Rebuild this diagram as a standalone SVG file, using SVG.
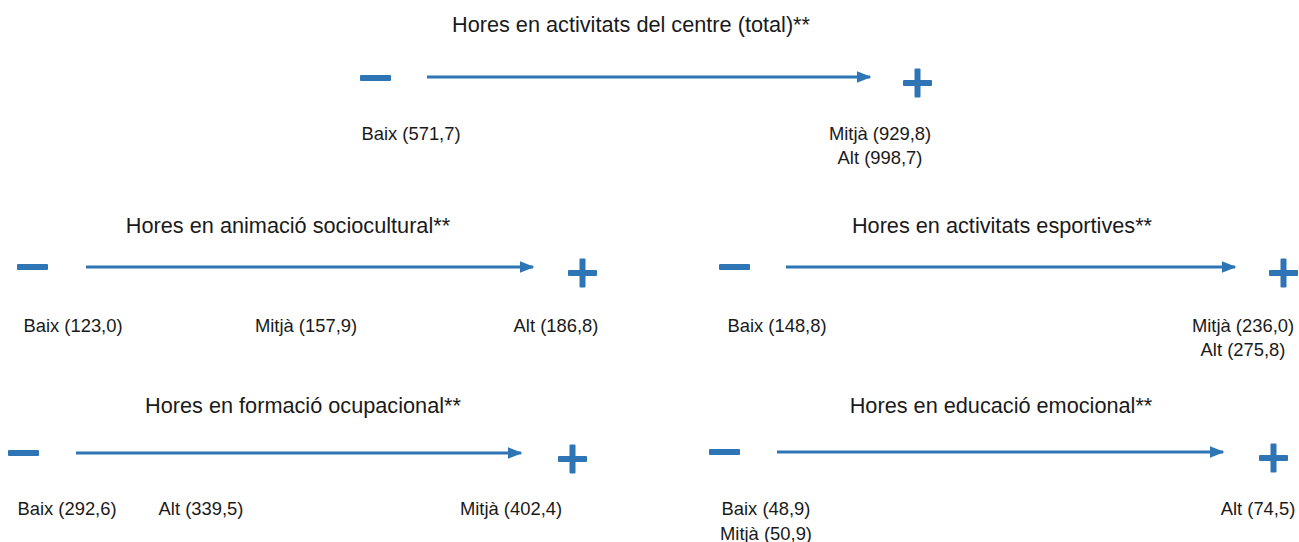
<svg xmlns="http://www.w3.org/2000/svg" width="1299" height="542" viewBox="0 0 1299 542">
<style>
.t{font-family:"Liberation Sans",Arial,sans-serif;font-size:21.7px;fill:#1a1a1a;text-anchor:middle}
.l{font-family:"Liberation Sans",Arial,sans-serif;font-size:18.4px;fill:#1a1a1a;text-anchor:middle}
.ar{stroke:#2E75B6;stroke-width:3;fill:none;marker-end:url(#ah)}
.s{fill:#2E75B6}
</style>
<defs>
<marker id="ah" markerWidth="5" markerHeight="4" refX="4.5" refY="2" orient="auto" markerUnits="strokeWidth">
<path d="M0,0 L5,2 L0,4 Z" fill="#2E75B6"/>
</marker>
<g id="minus"><rect x="0" y="-3" width="31" height="6" rx="1" class="s"/></g>
<g id="plus"><rect x="0" y="-3" width="29" height="6" rx="1" class="s"/><rect x="11.5" y="-14.5" width="6" height="29" rx="1" class="s"/></g>
</defs>
<g id="connectors">
<line class="ar" x1="427" y1="77" x2="870" y2="77"/>
<line class="ar" x1="86" y1="267" x2="533" y2="267"/>
<line class="ar" x1="786" y1="267" x2="1235" y2="267"/>
<line class="ar" x1="76" y1="453" x2="521" y2="453"/>
<line class="ar" x1="777" y1="452" x2="1223" y2="452"/>
</g>
<g id="total">
<text class="t" x="631" y="32">Hores en activitats del centre (total)**</text>
<use href="#minus" x="360" y="78"/>
<use href="#plus" x="903" y="83"/>
<text class="l" x="411" y="139.5">Baix (571,7)</text>
<text class="l" x="880" y="139.5">Mitjà (929,8)</text>
<text class="l" x="880" y="164">Alt (998,7)</text>
</g>
<g id="animacio">
<text class="t" x="288" y="233">Hores en animació sociocultural**</text>
<use href="#minus" x="17" y="267"/>
<use href="#plus" x="568" y="273"/>
<text class="l" x="73" y="331.5">Baix (123,0)</text>
<text class="l" x="306" y="331.5">Mitjà (157,9)</text>
<text class="l" x="556" y="331.5">Alt (186,8)</text>
</g>
<g id="esportives">
<text class="t" x="1002" y="233">Hores en activitats esportives**</text>
<use href="#minus" x="719" y="267"/>
<use href="#plus" x="1269" y="273"/>
<text class="l" x="777" y="331.5">Baix (148,8)</text>
<text class="l" x="1243" y="331.5">Mitjà (236,0)</text>
<text class="l" x="1243" y="355.5">Alt (275,8)</text>
</g>
<g id="formacio">
<text class="t" x="303" y="413">Hores en formació ocupacional**</text>
<use href="#minus" x="8" y="453"/>
<use href="#plus" x="558" y="459"/>
<text class="l" x="67" y="514.5">Baix (292,6)</text>
<text class="l" x="201" y="514.5">Alt (339,5)</text>
<text class="l" x="511" y="514.5">Mitjà (402,4)</text>
</g>
<g id="emocional">
<text class="t" x="1001" y="413">Hores en educació emocional**</text>
<use href="#minus" x="709" y="452"/>
<use href="#plus" x="1259" y="458"/>
<text class="l" x="766" y="514.5">Baix (48,9)</text>
<text class="l" x="766" y="539.5">Mitjà (50,9)</text>
<text class="l" x="1258" y="514.5">Alt (74,5)</text>
</g>
</svg>
